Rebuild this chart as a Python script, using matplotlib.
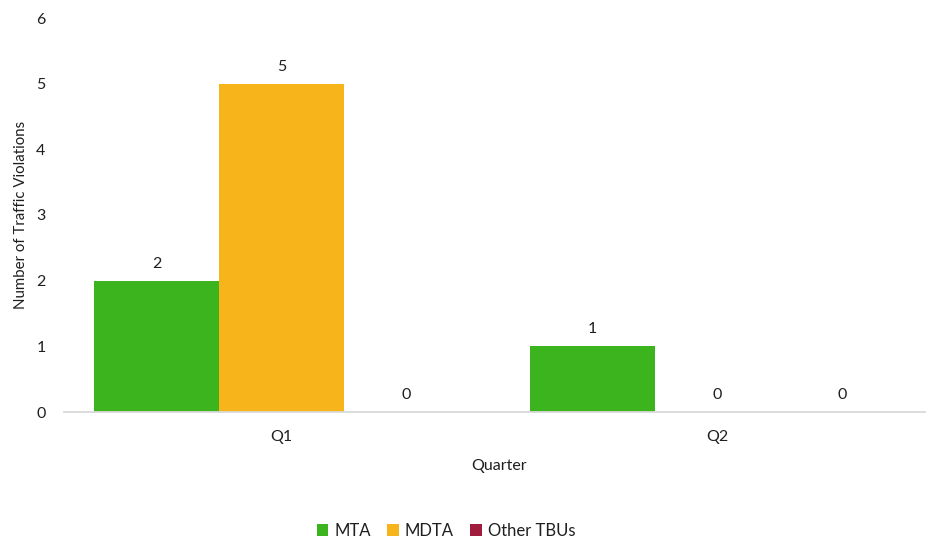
import numpy as np
import matplotlib.pyplot as plt

plt.rcParams['font.family'] = ['Lato', 'DejaVu Sans']

quarters = ['Q1', 'Q2']
series = ['MTA', 'MDTA', 'Other TBUs']
mta = [2, 1]
mdta = [5, 0]
other = [0, 0]
colors = ['#3BB41E', '#F7B51B', '#A01C3C']
txt = '#1F1F1F'
fs = 11.5

fig = plt.figure(figsize=(9.26, 5.4), dpi=100)
# plot area runs past the right edge, so the axis line reaches the border
ax = fig.add_axes([63.5 / 926, 128 / 540, 872 / 926, 394 / 540])

x = np.arange(len(quarters))
w = 0.286
for i, (name, vals, col) in enumerate(zip(series, [mta, mdta, other], colors)):
    pos = x + (i - 1) * w
    ax.bar(pos, vals, width=w, color=col, label=name)
    for p, v in zip(pos, vals):
        ax.text(p, v + 0.15, f'{v}', ha='center', va='bottom', fontsize=fs, color=txt)

ax.set_xlim(-0.5, 1.5)
ax.set_ylim(0, 6)
ax.set_yticks(range(0, 7))
ax.set_xticks(x)
ax.set_xticklabels(quarters)
ax.tick_params(axis='both', length=0, labelsize=fs, colors=txt)
ax.tick_params(axis='y', pad=13)
ax.tick_params(axis='x', pad=13)
for s in ['top', 'right', 'left']:
    ax.spines[s].set_visible(False)
ax.spines['bottom'].set_color('#D9D9D9')
ax.spines['bottom'].set_linewidth(1.3)

ax.set_xlabel('Quarter', fontsize=fs, color=txt, labelpad=11)
ax.set_ylabel('Number of Traffic Violations', fontsize=10.8, color=txt, labelpad=6)

fig.legend(loc='lower center', bbox_to_anchor=(446 / 926, -0.025), ncol=3, frameon=False,
           fontsize=12, handlelength=0.7, handleheight=0.7, handletextpad=0.35,
           columnspacing=1.0, labelcolor=txt)

fig.savefig('out.png', dpi=100)
